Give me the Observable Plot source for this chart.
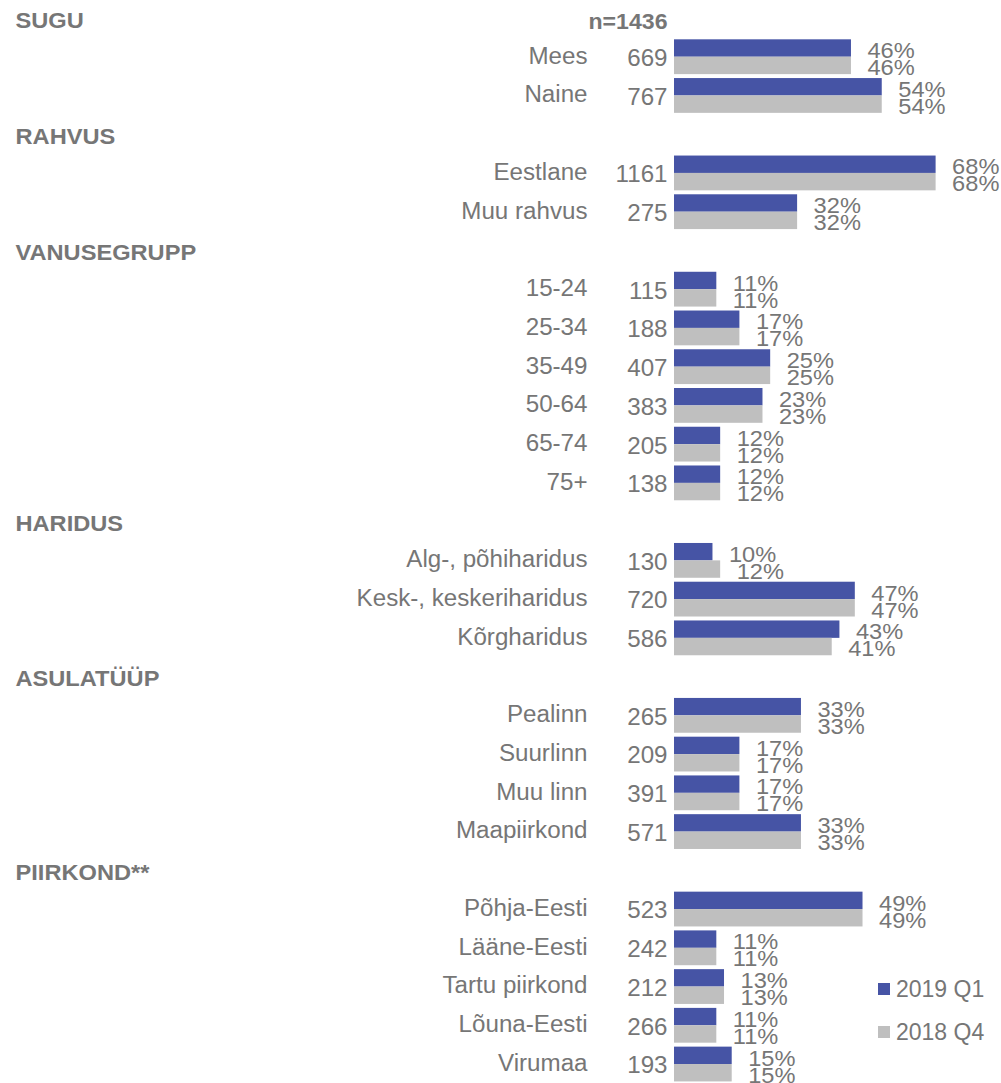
<!DOCTYPE html>
<html><head><meta charset="utf-8">
<script src="https://cdn.jsdelivr.net/npm/d3@7"></script>
<script src="https://cdn.jsdelivr.net/npm/@observablehq/plot@0.6"></script>
<style>
body{margin:0;background:#fff;font-family:"Liberation Sans",Arial,sans-serif;}
#wrap{position:relative;width:1001px;height:1083px;}
.legend{position:absolute;left:878px;height:24px;color:#767676;font-size:23px;display:flex;align-items:center;white-space:nowrap;}
.legend i{display:inline-block;width:12px;height:12px;margin-right:6px;}
</style></head><body><div id="wrap"></div>
<script>
// ---- data ----
const sections = ["SUGU", "RAHVUS", "VANUSEGRUPP", "HARIDUS", "ASULATÜÜP", "PIIRKOND**"];
const categories = ["Mees", "Naine",
  "Eestlane", "Muu rahvus",
  "15-24", "25-34", "35-49", "50-64", "65-74", "75+",
  "Alg-, põhiharidus", "Kesk-, keskeriharidus", "Kõrgharidus",
  "Pealinn", "Suurlinn", "Muu linn", "Maapiirkond",
  "Põhja-Eesti", "Lääne-Eesti", "Tartu piirkond", "Lõuna-Eesti", "Virumaa"];
const categorySection = ["SUGU", "SUGU",
  "RAHVUS", "RAHVUS",
  "VANUSEGRUPP", "VANUSEGRUPP", "VANUSEGRUPP", "VANUSEGRUPP", "VANUSEGRUPP", "VANUSEGRUPP",
  "HARIDUS", "HARIDUS", "HARIDUS",
  "ASULATÜÜP", "ASULATÜÜP", "ASULATÜÜP", "ASULATÜÜP",
  "PIIRKOND**", "PIIRKOND**", "PIIRKOND**", "PIIRKOND**", "PIIRKOND**"];
const sampleSizes = [669, 767, 1161, 275, 115, 188, 407, 383, 205, 138, 130, 720, 586, 265, 209, 391, 571, 523, 242, 212, 266, 193];
const share2019Q1 = [46, 54, 68, 32, 11, 17, 25, 23, 12, 12, 10, 47, 43, 33, 17, 17, 33, 49, 11, 13, 11, 15];
const share2018Q4 = [46, 54, 68, 32, 11, 17, 25, 23, 12, 12, 12, 47, 41, 33, 17, 17, 33, 49, 11, 13, 11, 15];
const seriesNames = ["2019 Q1", "2018 Q4"];
const seriesColors = ["#4654A5", "#BFBFBF"];
const totalLabel = "n=1436";

// ---- table ----
const headerRows = [];
const catRows = [];
const rowKeys = [];
sections.forEach(s => {
  rowKeys.push(s);
  headerRows.push({key: s, label: s});
  categories.forEach((c, i) => {
    if (categorySection[i] === s) {
      rowKeys.push(c);
      catRows.push({key: c, label: c, n: sampleSizes[i], q1: share2019Q1[i], q4: share2018Q4[i]});
    }
  });
});

const yRange = [-1.4, 1083.4];
const step = (yRange[1] - yRange[0]) / rowKeys.length;
const half = step / 2;
const barH = 17.4;
const textColor = "#767676";

const chart = Plot.plot({
  width: 1001,
  height: 1083,
  marginLeft: 674,
  marginRight: 0,
  marginTop: 0,
  marginBottom: 0,
  x: {domain: [0, 85], axis: null},
  y: {type: "band", domain: rowKeys, range: yRange, padding: 0, round: false, axis: null},
  style: {fontFamily: '"Liberation Sans", Arial, sans-serif', background: "white", overflow: "visible"},
  marks: [
    Plot.barX(catRows, {x: "q1", y: "key", fill: seriesColors[0], insetTop: half - barH, insetBottom: half}),
    Plot.barX(catRows, {x: "q4", y: "key", fill: seriesColors[1], insetTop: half, insetBottom: half - barH}),
    Plot.text(catRows, {x: "q1", y: "key", text: d => d.q1 + "%", textAnchor: "start", dx: 16, dy: -6.2, fontSize: 22.5, fill: textColor}),
    Plot.text(catRows, {x: "q4", y: "key", text: d => d.q4 + "%", textAnchor: "start", dx: 16, dy: 10.8, fontSize: 22.5, fill: textColor}),
    Plot.text(catRows, {x: () => 0, y: "key", text: "label", textAnchor: "end", dx: -87, dy: -1, fontSize: 23, fill: textColor}),
    Plot.text(catRows, {x: () => 0, y: "key", text: d => String(d.n), textAnchor: "end", dx: -7, dy: 1.5, fontSize: 23, fill: textColor}),
    Plot.text(headerRows, {x: () => 0, y: "key", text: "label", textAnchor: "start", dx: -659, dy: 2, fontSize: 22.5, fontWeight: "bold", fill: textColor}),
    Plot.text([totalLabel], {x: () => 0, y: () => sections[0], text: d => d, textAnchor: "end", dx: -7, dy: 3, fontSize: 22, fontWeight: "bold", fill: textColor})
  ]
});

const wrap = document.getElementById("wrap");
wrap.appendChild(chart);
// the reference's lettering is slightly wider than Arial: stretch each label a little
chart.querySelectorAll("text").forEach(t => {
  const w = t.getComputedTextLength();
  if (w > 0) {
    t.setAttribute("textLength", (w * 1.05).toFixed(1));
    t.setAttribute("lengthAdjust", "spacingAndGlyphs");
  }
});
const legendTops = [977, 1020];
seriesNames.forEach((name, i) => {
  const item = document.createElement("div");
  item.className = "legend";
  item.style.top = legendTops[i] + "px";
  const sw = document.createElement("i");
  sw.style.background = seriesColors[i];
  item.appendChild(sw);
  item.appendChild(document.createTextNode(name));
  wrap.appendChild(item);
});
</script>
</body></html>
